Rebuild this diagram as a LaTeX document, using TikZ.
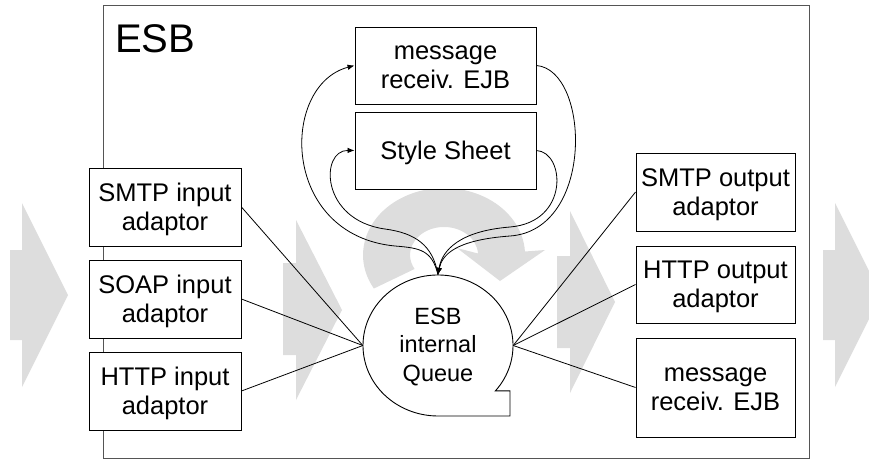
\documentclass[tikz,border=0pt]{standalone}
\usepackage{fontspec}
\setmainfont{Liberation Sans}
\usetikzlibrary{shapes.geometric,arrows.meta}
\definecolor{bggrey}{RGB}{221,221,221}
\definecolor{framegrey}{RGB}{85,85,85}
\newcommand\TwoL[2]{\rule{0pt}{20pt}\smash{#1}\\\smash{#2}\rule[-3pt]{0pt}{3pt}}
\newcommand\OneL[1]{\rule{0pt}{20pt}\smash{#1}\rule[-3pt]{0pt}{3pt}}
\newcommand\ThreeL[3]{\rule{0pt}{17pt}\smash{#1}\\\smash{#2}\\\smash{#3}\rule[-3pt]{0pt}{3pt}}
\begin{document}
\begin{tikzpicture}[x=1pt,y=-1pt,
  box/.style={draw, fill=white, line width=0.9pt, inner sep=0pt, align=center, font=\fontsize{25.5}{29}\selectfont},
  inbox/.style={box, minimum width=152pt, minimum height=78pt},
  topbox/.style={box, minimum width=181pt, minimum height=77pt},
  outbox/.style={box, minimum width=159pt, minimum height=78pt},
  chev/.style={fill=bggrey},
  conn/.style={line width=0.8pt},
  arr/.style={conn, -{Latex[length=7pt,width=5.5pt]}}]
\useasboundingbox (0,0) rectangle (869,459);
\clip (0,0) rectangle (869,459);

% background chevrons
\fill[chev] (10,250) -- (22,250) -- (22,203) -- (68,295) -- (22,387) -- (22,340) -- (10,340) -- cycle;
\fill[chev] (283,263) -- (296,263) -- (296,220) -- (342,310) -- (296,400) -- (296,355) -- (283,355) -- cycle;
\fill[chev] (557,256) -- (570,256) -- (570,211) -- (615,302) -- (570,393) -- (570,348) -- (557,348) -- cycle;
\fill[chev] (823,250) -- (835,250) -- (835,203) -- (881,295) -- (835,387) -- (835,340) -- (823,340) -- cycle;
% background circular arrow
\fill[bggrey] (373.9,288.5) arc[start angle=-210, end angle=-3, x radius=81, y radius=67]
  -- (545,250) -- (500,281) -- (457,248) -- (478,253.5)
  arc[start angle=-3, end angle=-210, x radius=34, y radius=28] -- cycle;

% ESB frame
\draw[framegrey, line width=1pt] (103,5) rectangle (809,458);
\node[anchor=base west, inner sep=0pt, font=\fontsize{40}{46}\selectfont] (title) at (115,52) {ESB};

% boxes
\node[inbox] (smtpin) at (165,207) {\TwoL{SMTP input}{adaptor}};
\node[inbox] (soapin) at (165,299) {\TwoL{SOAP input}{adaptor}};
\node[inbox] (httpin) at (165,391) {\TwoL{HTTP input}{adaptor}};
\node[topbox] (mrtop) at (445.5,65.5) {\TwoL{message}{receiv. EJB}};
\node[topbox] (ss) at (445.5,150.5) {\OneL{Style Sheet}};
\node[outbox] (smtpout) at (715.5,192) {\TwoL{SMTP output}{adaptor}};
\node[outbox, minimum height=77pt] (httpout) at (715.5,284.5) {\TwoL{HTTP output}{adaptor}};
\node[outbox, minimum height=99pt] (mrout) at (715.5,387.5) {\TwoL{message}{receiv. EJB}};

% queue
\filldraw[fill=white, line width=0.9pt] (495.45,390.8) arc[start angle=40, end angle=-270, x radius=75, y radius=70.5]
  -- (510,416) -- (510,390.8) -- cycle;
\node[ellipse, minimum width=150pt, minimum height=141pt, inner sep=0pt, align=center,
  font=\fontsize{23.5}{28.5}\selectfont] (q) at (438,345.5) {\ThreeL{ESB}{internal}{Queue}};

% straight connectors
\draw[conn] (smtpin.east) -- (q.west);
\draw[conn] (soapin.east) -- (q.west);
\draw[conn] (httpin.east) -- (q.west);
\draw[conn] (q.east) -- (smtpout.west);
\draw[conn] (q.east) -- (httpout.west);
\draw[conn] (q.east) -- (mrout.west);

% curved connectors
\draw[arr] (q.north) .. controls (433,245) and (415,233) .. (385,229) .. controls (320,220) and (320,150) .. (ss.west);
\draw[arr] (q.north) .. controls (432,250) and (420,248) .. (395,246) .. controls (280,235) and (280,85) .. (mrtop.west);
\draw[arr] (ss.east) .. controls (565,152) and (570,222) .. (510,227) .. controls (460,231) and (442,250) .. (q.north);
\draw[arr] (mrtop.east) .. controls (590,70) and (595,230) .. (510,236) .. controls (455,240) and (442,255) .. (q.north);
\end{tikzpicture}
\end{document}
